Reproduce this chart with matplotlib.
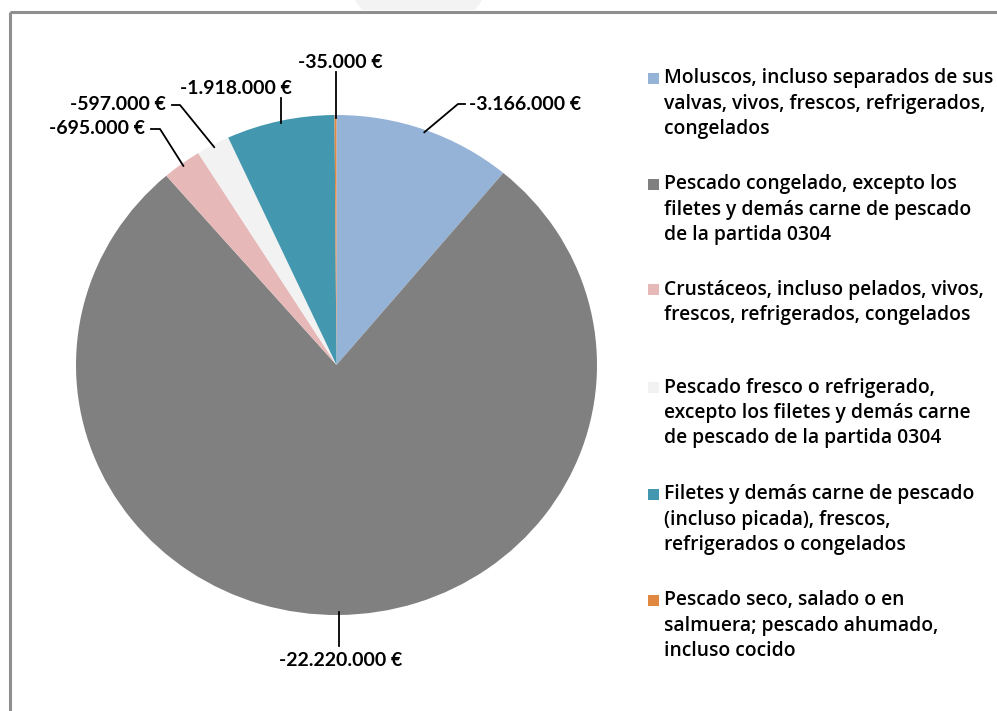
import matplotlib
matplotlib.use("Agg")
import matplotlib.pyplot as plt
import numpy as np
from matplotlib.patches import Polygon

# ---- data ----
categories = [
    "Moluscos, incluso separados de sus\nvalvas, vivos, frescos, refrigerados,\ncongelados",
    "Pescado congelado, excepto los\nfiletes y demás carne de pescado\nde la partida 0304",
    "Crustáceos, incluso pelados, vivos,\nfrescos, refrigerados, congelados",
    "Pescado fresco o refrigerado,\nexcepto los filetes y demás carne\nde pescado de la partida 0304",
    "Filetes y demás carne de pescado\n(incluso picada), frescos,\nrefrigerados o congelados",
    "Pescado seco, salado o en\nsalmuera; pescado ahumado,\nincluso cocido",
]
values = [-3166000, -22220000, -695000, -597000, -1918000, -35000]
value_labels = ["-3.166.000 €", "-22.220.000 €", "-695.000 €", "-597.000 €", "-1.918.000 €", "-35.000 €"]
colors = ["#95B3D7", "#808080", "#E6B9B8", "#F2F2F2", "#4398B0", "#E0883F"]

W, H = 997, 711
fig = plt.figure(figsize=(W / 100, H / 100), dpi=100)
fig.patch.set_facecolor("white")

# pie bounding box in pixels
cx, cy, rx, ry = 336.5, 365.0, 260.5, 250.0
ax = fig.add_axes([(cx - rx) / W, (H - (cy + ry)) / H, 2 * rx / W, 2 * ry / H])
sizes = np.abs(values)
ax.pie(sizes, colors=colors, startangle=90, counterclock=False, radius=1.0,
       wedgeprops=dict(linewidth=0))
ax.set_aspect("auto")
ax.set_xlim(-1, 1)
ax.set_ylim(-1, 1)
ax.axis("off")

# overlay in pixel coordinates
ov = fig.add_axes([0, 0, 1, 1], zorder=5)
ov.set_xlim(0, W)
ov.set_ylim(H, 0)
ov.axis("off")
ov.patch.set_alpha(0)

# frame and faint top shape
ov.plot([10, 10], [H + 5, 12], color="#8E8E8E", lw=2.2, solid_capstyle="butt")
ov.plot([10, W + 5], [12, 12], color="#8E8E8E", lw=2.2, solid_capstyle="butt")
ov.add_patch(Polygon([[355, 0], [482, 0], [475, 10], [362, 10]], closed=True,
                     facecolor="#F3F3F3", edgecolor="none"))

# slice mid-angles (clockwise from top)
fr = sizes / sizes.sum()
cum = np.concatenate([[0], np.cumsum(fr)])
mids = (cum[:-1] + cum[1:]) / 2 * 360.0

def edge(theta, k=1.0):
    t = np.deg2rad(theta)
    return cx + k * rx * np.sin(t), cy - k * ry * np.cos(t)

lab_font = dict(family=["Lato", "DejaVu Sans"], fontsize=14, fontweight="bold", color="black")

# label layout: text center, leader start, optional elbow
layout = [
    ((525, 104), (465, 104), (458, 104)),
    ((341, 661), None, None),
    ((97, 128), (151, 129), (160, 129)),
    ((118, 104), (172, 105), (180, 105)),
    ((236, 88), None, None),
    ((340, 62), None, None),
]
for i, (tc, start, elbow) in enumerate(layout):
    ov.text(tc[0], tc[1], value_labels[i], ha="center", va="center", **lab_font)
    ex, ey = edge(mids[i], 0.99)
    if start is None:
        if ey > cy:
            ov.plot([ex, ex], [ey, tc[1] - 15], color="black", lw=1.3)
        else:
            ov.plot([ex, ex], [ey, tc[1] + 10], color="black", lw=1.3)
    else:
        ov.plot([start[0], elbow[0], ex], [start[1], elbow[1], ey], color="black", lw=1.3)

# legend
leg_font = dict(family=["Open Sans", "DejaVu Sans"], fontsize=13.9, fontweight="semibold", color="black")
first_y = [78, 184, 289, 387, 494, 600]
for i, lab in enumerate(categories):
    y = first_y[i]
    ov.add_patch(plt.Rectangle((648, y - 5.5), 11, 11, facecolor=colors[i], edgecolor="none"))
    ov.text(664, y - 9.5, lab, ha="left", va="top", linespacing=1.35, **leg_font)

fig.savefig("out.png", dpi=100)
